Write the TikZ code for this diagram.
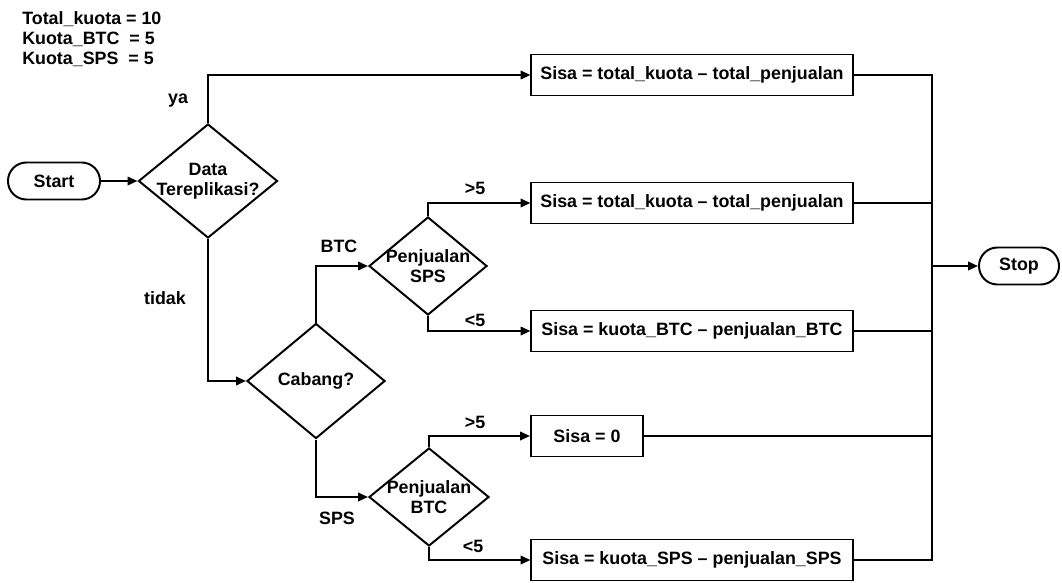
\documentclass[tikz,border=0pt]{standalone}
\usepackage{fontspec}
\setmainfont{Liberation Sans}
\usetikzlibrary{shapes.geometric,arrows.meta}

\begin{document}
\begin{tikzpicture}[x=0.025cm, y=-0.025cm,
  every node/.style={font=\fontsize{12.7}{14.2}\selectfont\bfseries},
  procbox/.style={draw, line width=1.4pt, minimum height=1.025cm, inner sep=0pt},
  decision/.style={draw, diamond, line width=1.4pt, aspect=1.2, inner sep=-8pt, align=center},
  terminal/.style={draw, rounded corners=0.46cm, line width=1.4pt, minimum width=2.3cm, minimum height=0.925cm},
  arr/.style={line width=1.4pt, -{Triangle[length=7pt,width=6pt]}},
  conn/.style={line width=1.4pt}]
\useasboundingbox (0,0) rectangle (1062,583);
\node[align=left, anchor=north west, inner sep=0pt] (quota) at (22,11) {Total\_kuota = 10\\Kuota\_BTC~ = 5\\Kuota\_SPS~ = 5};
\node[terminal] (start) at (54,181) {Start};
\node[decision, minimum width=3.475cm, minimum height=2.85cm] (repl) at (208,181) {Data\\Tereplikasi?};
\node[decision, minimum width=3.45cm, minimum height=2.875cm] (cabang) at (316,381) {Cabang?};
\node[decision, minimum width=2.95cm, minimum height=2.45cm] (jualsps) at (428,266) {Penjualan\\SPS};
\node[decision, minimum width=3.0cm, minimum height=2.45cm] (jualbtc) at (429,497) {Penjualan\\BTC};
\node[procbox, minimum width=8.025cm] (sisa1) at (692,75) {Sisa = total\_kuota – total\_penjualan};
\node[procbox, minimum width=8.025cm] (sisa2) at (692,203) {Sisa = total\_kuota – total\_penjualan};
\node[procbox, minimum width=8.025cm] (sisa3) at (692,331) {Sisa = kuota\_BTC – penjualan\_BTC};
\node[procbox, minimum width=2.8cm] (sisa4) at (587,436) {Sisa = 0};
\node[procbox, minimum width=8.025cm] (sisa5) at (692,560) {Sisa = kuota\_SPS – penjualan\_SPS};
\node[terminal, minimum width=2.0cm] (stop) at (1019,266) {Stop};
\coordinate (bus) at (932,266);
% labels on the branches
\node (lblya) at (178,101) {ya};
\node (lbltidak) at (165,298) {tidak};
\node (lblbtc) at (339,246) {BTC};
\node (lblsps) at (337,518) {SPS};
\node (lblgt1) at (475,188) {>5};
\node (lbllt1) at (475,320) {<5};
\node (lblgt2) at (475,422) {>5};
\node (lbllt2) at (473,546) {<5};
% connectors
\draw[arr] (start) -- (repl);
\draw[arr] (repl.north) |- (sisa1.west);
\draw[arr] (repl.south) |- (cabang.west);
\draw[arr] (cabang.north) |- (jualsps.west);
\draw[arr] (cabang.south) |- (jualbtc.west);
\draw[arr] (jualsps.north) |- (sisa2.west);
\draw[arr] (jualsps.south) |- (sisa3.west);
\draw[arr] (jualbtc.north) |- (sisa4.west);
\draw[arr] (jualbtc.south) |- (sisa5.west);
\foreach \b in {sisa1,sisa2,sisa3,sisa4,sisa5}
  \draw[conn] (\b.east) -| (bus);
\draw[arr] (bus) -- (stop);
\end{tikzpicture}
\end{document}
